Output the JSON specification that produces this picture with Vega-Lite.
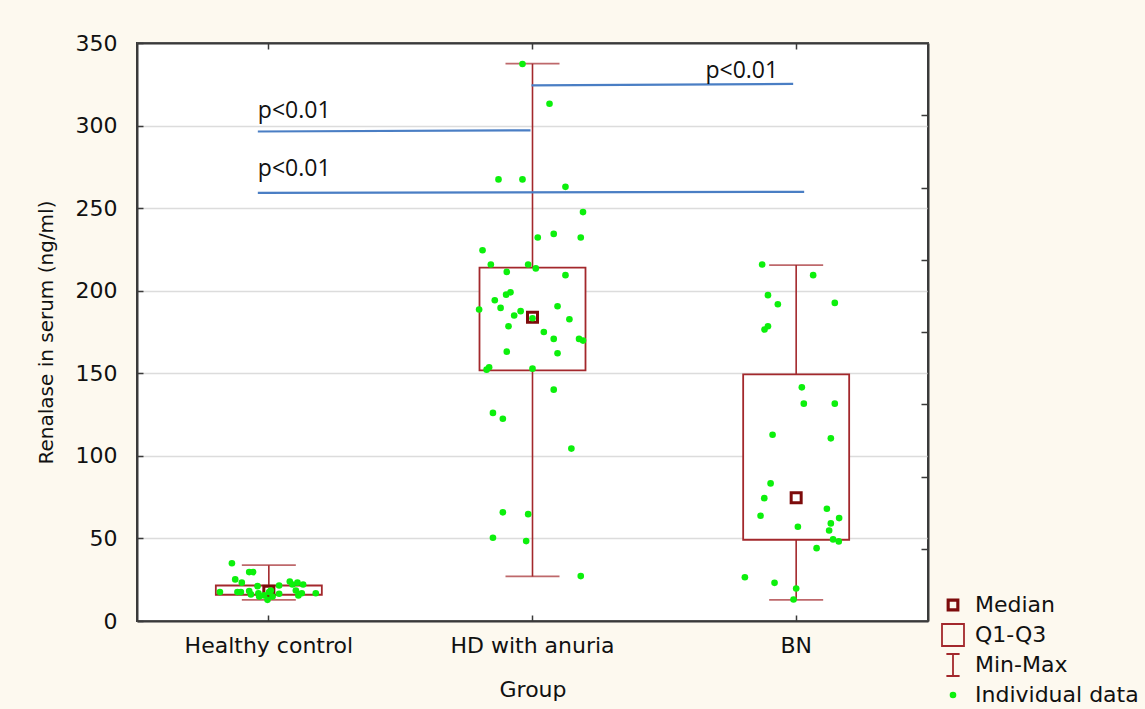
{
  "$schema": "https://vega.github.io/schema/vega-lite/v6.json",
  "width": 791,
  "height": 578,
  "autosize": {"type": "none"},
  "padding": {"left": 137, "top": 43, "right": 217, "bottom": 88},
  "background": "#fdf9ef",
  "view": {"fill": "white", "stroke": "#3a3a3a", "strokeWidth": 2},
  "config": {
    "font": "DejaVu Sans",
    "axis": {"labelFont": "DejaVu Sans", "titleFont": "DejaVu Sans", "labelColor": "#111", "titleColor": "#111", "domainColor": "#3a3a3a", "domainWidth": 2, "tickColor": "#3a3a3a", "tickWidth": 1.5, "titleFontWeight": "normal"}
  },
  "datasets": {
    "summary": [
      {"group": "Healthy control", "min": 12.8, "q1": 15.9, "median": 18, "q3": 21.5, "max": 33.8},
      {"group": "HD with anuria", "min": 27, "q1": 151.8, "median": 184, "q3": 214, "max": 337.5},
      {"group": "BN", "min": 12.8, "q1": 49.2, "median": 74.7, "q3": 149.4, "max": 215.5}
    ],
    "points": [
      {"group": "Healthy control", "value": 35.0, "jitter": -0.28},
      {"group": "Healthy control", "value": 29.6, "jitter": -0.149},
      {"group": "Healthy control", "value": 29.6, "jitter": -0.119},
      {"group": "Healthy control", "value": 25.2, "jitter": -0.255},
      {"group": "Healthy control", "value": 23.2, "jitter": -0.205},
      {"group": "Healthy control", "value": 17.5, "jitter": -0.371},
      {"group": "Healthy control", "value": 17.5, "jitter": -0.238},
      {"group": "Healthy control", "value": 17.5, "jitter": -0.212},
      {"group": "Healthy control", "value": 18.1, "jitter": -0.149},
      {"group": "Healthy control", "value": 16.1, "jitter": -0.136},
      {"group": "Healthy control", "value": 21.1, "jitter": -0.086},
      {"group": "Healthy control", "value": 16.8, "jitter": -0.079},
      {"group": "Healthy control", "value": 14.8, "jitter": -0.073},
      {"group": "Healthy control", "value": 15.5, "jitter": -0.036},
      {"group": "Healthy control", "value": 12.8, "jitter": -0.01},
      {"group": "Healthy control", "value": 17.5, "jitter": 0.002},
      {"group": "Healthy control", "value": 18.5, "jitter": 0.015},
      {"group": "Healthy control", "value": 14.8, "jitter": 0.028},
      {"group": "Healthy control", "value": 21.5, "jitter": 0.078},
      {"group": "Healthy control", "value": 16.5, "jitter": 0.078},
      {"group": "Healthy control", "value": 23.9, "jitter": 0.159},
      {"group": "Healthy control", "value": 22.1, "jitter": 0.179},
      {"group": "Healthy control", "value": 23.2, "jitter": 0.217},
      {"group": "Healthy control", "value": 22.1, "jitter": 0.26},
      {"group": "Healthy control", "value": 18.5, "jitter": 0.205},
      {"group": "Healthy control", "value": 16.8, "jitter": 0.25},
      {"group": "Healthy control", "value": 15.5, "jitter": 0.224},
      {"group": "Healthy control", "value": 16.8, "jitter": 0.356},
      {"group": "HD with anuria", "value": 337.3, "jitter": -0.076},
      {"group": "HD with anuria", "value": 313.2, "jitter": 0.129},
      {"group": "HD with anuria", "value": 267.4, "jitter": -0.258},
      {"group": "HD with anuria", "value": 267.4, "jitter": -0.076},
      {"group": "HD with anuria", "value": 262.9, "jitter": 0.25},
      {"group": "HD with anuria", "value": 247.6, "jitter": 0.383},
      {"group": "HD with anuria", "value": 232.2, "jitter": 0.04},
      {"group": "HD with anuria", "value": 234.4, "jitter": 0.161},
      {"group": "HD with anuria", "value": 232.2, "jitter": 0.366},
      {"group": "HD with anuria", "value": 224.5, "jitter": -0.379},
      {"group": "HD with anuria", "value": 215.9, "jitter": -0.316},
      {"group": "HD with anuria", "value": 215.9, "jitter": -0.033},
      {"group": "HD with anuria", "value": 213.5, "jitter": 0.025},
      {"group": "HD with anuria", "value": 211.4, "jitter": -0.195},
      {"group": "HD with anuria", "value": 209.4, "jitter": 0.25},
      {"group": "HD with anuria", "value": 197.6, "jitter": -0.2},
      {"group": "HD with anuria", "value": 199.0, "jitter": -0.167},
      {"group": "HD with anuria", "value": 194.2, "jitter": -0.286},
      {"group": "HD with anuria", "value": 188.6, "jitter": -0.405},
      {"group": "HD with anuria", "value": 189.6, "jitter": -0.242},
      {"group": "HD with anuria", "value": 190.6, "jitter": 0.19},
      {"group": "HD with anuria", "value": 187.6, "jitter": -0.09},
      {"group": "HD with anuria", "value": 185.0, "jitter": -0.139},
      {"group": "HD with anuria", "value": 183.3, "jitter": 0.0},
      {"group": "HD with anuria", "value": 182.7, "jitter": 0.28},
      {"group": "HD with anuria", "value": 178.5, "jitter": -0.182},
      {"group": "HD with anuria", "value": 175.0, "jitter": 0.086},
      {"group": "HD with anuria", "value": 170.8, "jitter": 0.161},
      {"group": "HD with anuria", "value": 170.8, "jitter": 0.353},
      {"group": "HD with anuria", "value": 169.8, "jitter": 0.383},
      {"group": "HD with anuria", "value": 163.1, "jitter": -0.195},
      {"group": "HD with anuria", "value": 162.1, "jitter": 0.19},
      {"group": "HD with anuria", "value": 153.6, "jitter": -0.329},
      {"group": "HD with anuria", "value": 152.2, "jitter": -0.348},
      {"group": "HD with anuria", "value": 152.8, "jitter": 0.0},
      {"group": "HD with anuria", "value": 140.1, "jitter": 0.161},
      {"group": "HD with anuria", "value": 126.0, "jitter": -0.3},
      {"group": "HD with anuria", "value": 122.5, "jitter": -0.225},
      {"group": "HD with anuria", "value": 104.4, "jitter": 0.295},
      {"group": "HD with anuria", "value": 65.8, "jitter": -0.225},
      {"group": "HD with anuria", "value": 64.7, "jitter": -0.033},
      {"group": "HD with anuria", "value": 50.4, "jitter": -0.3},
      {"group": "HD with anuria", "value": 48.4, "jitter": -0.048},
      {"group": "HD with anuria", "value": 27.2, "jitter": 0.366},
      {"group": "BN", "value": 215.9, "jitter": -0.258},
      {"group": "BN", "value": 209.4, "jitter": 0.129},
      {"group": "BN", "value": 197.3, "jitter": -0.214},
      {"group": "BN", "value": 191.8, "jitter": -0.139},
      {"group": "BN", "value": 192.6, "jitter": 0.293},
      {"group": "BN", "value": 178.5, "jitter": -0.214},
      {"group": "BN", "value": 176.5, "jitter": -0.24},
      {"group": "BN", "value": 141.5, "jitter": 0.043},
      {"group": "BN", "value": 131.6, "jitter": 0.058},
      {"group": "BN", "value": 131.6, "jitter": 0.293},
      {"group": "BN", "value": 112.8, "jitter": -0.179},
      {"group": "BN", "value": 110.6, "jitter": 0.263},
      {"group": "BN", "value": 83.3, "jitter": -0.194},
      {"group": "BN", "value": 74.4, "jitter": -0.242},
      {"group": "BN", "value": 68.0, "jitter": 0.233},
      {"group": "BN", "value": 63.7, "jitter": -0.27},
      {"group": "BN", "value": 62.3, "jitter": 0.326},
      {"group": "BN", "value": 59.1, "jitter": 0.263},
      {"group": "BN", "value": 57.1, "jitter": 0.013},
      {"group": "BN", "value": 54.8, "jitter": 0.25},
      {"group": "BN", "value": 49.4, "jitter": 0.28},
      {"group": "BN", "value": 48.2, "jitter": 0.323},
      {"group": "BN", "value": 44.1, "jitter": 0.155},
      {"group": "BN", "value": 26.5, "jitter": -0.389},
      {"group": "BN", "value": 23.1, "jitter": -0.164},
      {"group": "BN", "value": 19.7, "jitter": 0.0},
      {"group": "BN", "value": 13.0, "jitter": -0.02}
    ],
    "legend": [
      {"item": "Median"}, {"item": "Q1-Q3"}, {"item": "Min-Max"}, {"item": "Individual data"}
    ]
  },
  "resolve": {"axis": {"x": "independent", "y": "independent"}},
  "layer": [
    {
      "data": {"name": "summary"},
      "mark": {"type": "rule", "color": "#a3282c", "strokeWidth": 1.6},
      "encoding": {
        "x": {"field": "group", "type": "nominal",
              "scale": {"domain": ["Healthy control", "HD with anuria", "BN"], "paddingInner": 0, "paddingOuter": 0},
              "axis": {"orient": "top", "labels": false, "title": null, "tickSize": -6, "domain": true, "grid": false}},
        "y": {"field": "min", "type": "quantitative", "scale": {"domain": [0, 350], "nice": false},
              "axis": {"orient": "right", "values": [43.75, 87.5, 131.25, 175, 218.75, 262.5, 306.25], "labels": false, "title": null, "tickSize": -7, "grid": false}},
        "y2": {"field": "max"}
      }
    },
    {
      "data": {"name": "summary"},
      "mark": {"type": "tick", "color": "#a3282c", "size": 54, "thickness": 1.8, "orient": "horizontal"},
      "encoding": {
        "x": {"field": "group", "type": "nominal", "scale": {"domain": ["Healthy control", "HD with anuria", "BN"]}, "axis": null},
        "y": {"field": "max", "type": "quantitative", "axis": null}
      }
    },
    {
      "data": {"name": "summary"},
      "mark": {"type": "tick", "color": "#a3282c", "size": 54, "thickness": 1.8, "orient": "horizontal"},
      "encoding": {
        "x": {"field": "group", "type": "nominal", "scale": {"domain": ["Healthy control", "HD with anuria", "BN"]}, "axis": null},
        "y": {"field": "min", "type": "quantitative", "axis": null}
      }
    },
    {
      "data": {"name": "summary"},
      "mark": {"type": "bar", "fill": "white", "stroke": "#a3282c", "strokeWidth": 1.8, "width": 106},
      "encoding": {
        "x": {"field": "group", "type": "nominal", "scale": {"domain": ["Healthy control", "HD with anuria", "BN"]},
              "axis": {"orient": "bottom", "title": "Group", "labelAngle": 0, "labelFontSize": 22, "titleFontSize": 22, "tickSize": -6, "labelPadding": 20, "titlePadding": 23, "grid": false}},
        "y": {"field": "q1", "type": "quantitative",
              "axis": {"orient": "left", "title": "Renalase in serum (ng/ml)", "values": [0, 50, 100, 150, 200, 250, 300, 350], "labelFontSize": 22, "titleFontSize": 20, "tickSize": -6, "labelPadding": 26, "titlePadding": 19, "grid": true, "gridColor": "#dcdcdc", "gridWidth": 1.5}},
        "y2": {"field": "q3"}
      }
    },
    {
      "data": {"name": "summary"},
      "mark": {"type": "point", "shape": "square", "size": 100, "filled": false, "stroke": "#7d0b0b", "strokeWidth": 3, "opacity": 1},
      "encoding": {
        "x": {"field": "group", "type": "nominal", "scale": {"domain": ["Healthy control", "HD with anuria", "BN"]}, "axis": null},
        "y": {"field": "median", "type": "quantitative", "axis": null}
      }
    },
    {
      "data": {"values": [{"from": "Healthy control", "to": "HD with anuria", "y1": 296.4, "y2": 297.1}]},
      "mark": {"type": "rule", "color": "#4a7ec4", "strokeWidth": 2.2, "xOffset": -11, "x2Offset": -2},
      "encoding": {
        "x": {"field": "from", "type": "nominal", "scale": {"domain": ["Healthy control", "HD with anuria", "BN"]}, "axis": null},
        "x2": {"field": "to"},
        "y": {"field": "y1", "type": "quantitative", "axis": null},
        "y2": {"field": "y2"}
      }
    },
    {
      "data": {"values": [{"from": "Healthy control", "to": "BN", "y1": 259.3, "y2": 259.9}]},
      "mark": {"type": "rule", "color": "#4a7ec4", "strokeWidth": 2.2, "xOffset": -11, "x2Offset": 8},
      "encoding": {
        "x": {"field": "from", "type": "nominal", "scale": {"domain": ["Healthy control", "HD with anuria", "BN"]}, "axis": null},
        "x2": {"field": "to"},
        "y": {"field": "y1", "type": "quantitative", "axis": null},
        "y2": {"field": "y2"}
      }
    },
    {
      "data": {"values": [{"from": "HD with anuria", "to": "BN", "y1": 324.4, "y2": 325.2}]},
      "mark": {"type": "rule", "color": "#4a7ec4", "strokeWidth": 2.2, "xOffset": -1, "x2Offset": -3},
      "encoding": {
        "x": {"field": "from", "type": "nominal", "scale": {"domain": ["Healthy control", "HD with anuria", "BN"]}, "axis": null},
        "x2": {"field": "to"},
        "y": {"field": "y1", "type": "quantitative", "axis": null},
        "y2": {"field": "y2"}
      }
    },
    {
      "data": {"values": [
        {"group": "Healthy control", "value": 304.5, "label": "p<0.01"},
        {"group": "Healthy control", "value": 269.4, "label": "p<0.01"}
      ]},
      "mark": {"type": "text", "align": "left", "baseline": "alphabetic", "dx": -11, "font": "Open Sans", "fontSize": 23, "color": "#111"},
      "encoding": {
        "x": {"field": "group", "type": "nominal", "scale": {"domain": ["Healthy control", "HD with anuria", "BN"]}, "axis": null},
        "y": {"field": "value", "type": "quantitative", "axis": null},
        "text": {"field": "label"}
      }
    },
    {
      "data": {"values": [
        {"group": "BN", "value": 328.8, "label": "p<0.01"}
      ]},
      "mark": {"type": "text", "align": "right", "baseline": "alphabetic", "dx": -18, "font": "Open Sans", "fontSize": 23, "color": "#111"},
      "encoding": {
        "x": {"field": "group", "type": "nominal", "scale": {"domain": ["Healthy control", "HD with anuria", "BN"]}, "axis": null},
        "y": {"field": "value", "type": "quantitative", "axis": null},
        "text": {"field": "label"}
      }
    },
    {
      "data": {"name": "points"},
      "mark": {"type": "circle", "color": "#0cf00c", "size": 44, "opacity": 1},
      "encoding": {
        "x": {"field": "group", "type": "nominal", "scale": {"domain": ["Healthy control", "HD with anuria", "BN"]}, "axis": null},
        "xOffset": {"field": "jitter", "type": "quantitative", "scale": {"domain": [-1, 1]}},
        "y": {"field": "value", "type": "quantitative", "axis": null}
      }
    },
    {
      "data": {"name": "legend"},
      "mark": {"type": "point", "opacity": 0, "filled": false},
      "encoding": {
        "shape": {"field": "item", "type": "nominal",
          "scale": {"domain": ["Median", "Q1-Q3", "Min-Max", "Individual data"],
                    "range": ["M-0.5,-0.5H0.5V0.5H-0.5Z M-0.38,-0.38H0.38V0.38H-0.38Z M-0.44,-0.44H0.44V0.44H-0.44Z", "M-1,-1H1V1H-1Z", "M-0.6,-1H0.6M0,-1V1M-0.6,1H0.6", "M-0.22,0A0.22,0.22 0 1,0 0.22,0A0.22,0.22 0 1,0 -0.22,0Z M-0.1,0A0.1,0.1 0 1,0 0.1,0A0.1,0.1 0 1,0 -0.1,0Z"]},
          "legend": {
            "title": null, "orient": "none", "legendX": 804, "legendY": 550, "padding": 0,
            "symbolSize": 484, "rowPadding": 0, "labelOffset": 10, "gridAlign": "all",
            "symbolStrokeWidth": 1.8, "symbolOpacity": 1,
            "labelFont": "DejaVu Sans", "labelFontSize": 22, "labelColor": "#111", "labelLimit": 300
          }
        },
        "color": {"field": "item", "type": "nominal",
          "scale": {"domain": ["Median", "Q1-Q3", "Min-Max", "Individual data"],
                    "range": ["#7d0b0b", "#a3282c", "#a3282c", "#0cf00c"]},
          "legend": {
            "title": null, "orient": "none", "legendX": 804, "legendY": 550, "padding": 0,
            "symbolSize": 484, "rowPadding": 0, "labelOffset": 10, "gridAlign": "all",
            "symbolStrokeWidth": 1.8, "symbolOpacity": 1,
            "labelFont": "DejaVu Sans", "labelFontSize": 22, "labelColor": "#111", "labelLimit": 300
          }
        }
      }
    }
  ]
}
